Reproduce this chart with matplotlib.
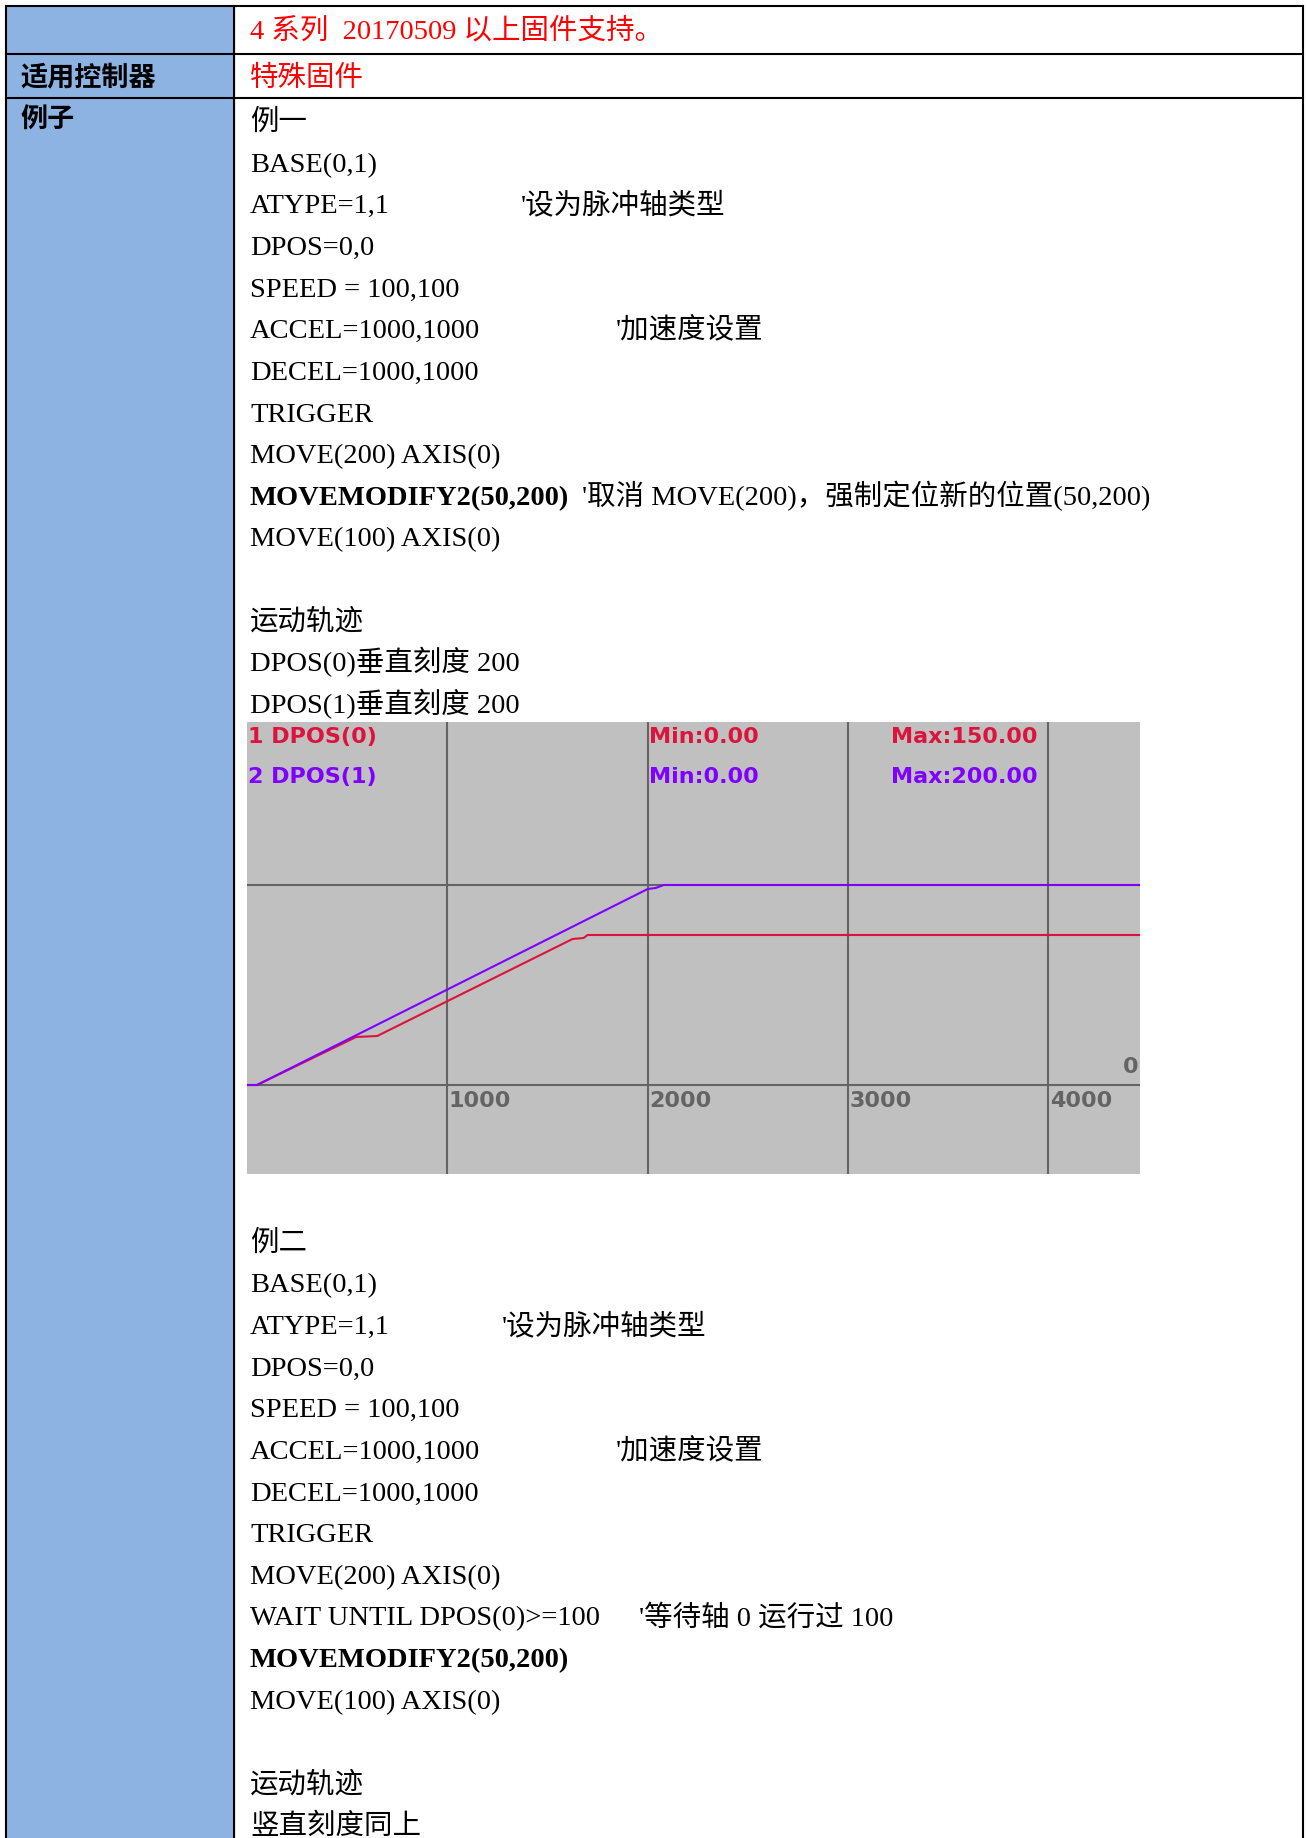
import matplotlib
matplotlib.use("Agg")
import matplotlib.pyplot as plt
from matplotlib.patches import Rectangle

# ---- chart data (time in ms, position in units) ----
t_axis0 = [0, 50, 545, 650, 1625, 1680, 1700, 4455]
dpos_axis0 = [0, 0, 48, 49, 146, 147, 150, 150]
t_axis1 = [0, 50, 2000, 2040, 2080, 4455]
dpos_axis1 = [0, 0, 196, 197, 200, 200]
x_ticks = [1000, 2000, 3000, 4000]
h_grid = [0, 200]
legend_names = ["1 DPOS(0)", "2 DPOS(1)"]
legend_min = ["Min:0.00", "Min:0.00"]
legend_max = ["Max:150.00", "Max:200.00"]

# ---- document text ----
header_note = "4 系列  20170509 以上固件支持。"
controller = "特殊固件"
left_labels = ["适用控制器", "例子"]

example1 = [
    ("例一", "", False),
    ("BASE(0,1)", "", False),
    ("ATYPE=1,1", "'设为脉冲轴类型", False),
    ("DPOS=0,0", "", False),
    ("SPEED = 100,100", "", False),
    ("ACCEL=1000,1000", "'加速度设置", False),
    ("DECEL=1000,1000", "", False),
    ("TRIGGER", "", False),
    ("MOVE(200) AXIS(0)", "", False),
    ("MOVEMODIFY2(50,200)", "'取消 MOVE(200)，强制定位新的位置(50,200)", True),
    ("MOVE(100) AXIS(0)", "", False),
    ("", "", False),
    ("运动轨迹", "", False),
    ("DPOS(0)垂直刻度 200", "", False),
    ("DPOS(1)垂直刻度 200", "", False),
]
comment_x1 = {2: 521, 5: 616, 9: 582}

example2 = [
    ("例二", "", False),
    ("BASE(0,1)", "", False),
    ("ATYPE=1,1", "'设为脉冲轴类型", False),
    ("DPOS=0,0", "", False),
    ("SPEED = 100,100", "", False),
    ("ACCEL=1000,1000", "'加速度设置", False),
    ("DECEL=1000,1000", "", False),
    ("TRIGGER", "", False),
    ("MOVE(200) AXIS(0)", "", False),
    ("WAIT UNTIL DPOS(0)>=100", "'等待轴 0 运行过 100", False),
    ("MOVEMODIFY2(50,200)", "", True),
    ("MOVE(100) AXIS(0)", "", False),
    ("", "", False),
    ("运动轨迹", "", False),
    ("竖直刻度同上", "", False),
]
comment_x2 = {2: 502, 5: 616, 9: 639}

W, H = 1307, 1838
SERIF = ["Liberation Serif", "Noto Sans CJK SC"]
FS = 20.5
RED = "#ff0000"
C0 = "#dc143c"
C1 = "#8000ff"
GRID = "#646464"

fig = plt.figure(figsize=(W / 100, H / 100), dpi=100)
ax = fig.add_axes([0, 0, 1, 1])
ax.set_xlim(0, W)
ax.set_ylim(H, 0)
ax.axis("off")

# table frame
left, mid, right, top = 6, 234, 1303, 6
row1, row2 = 54, 98
ax.add_patch(Rectangle((left, top), mid - left, H - top, color="#8db3e2", zorder=0))
lw = 1.5
ax.plot([left, right], [top, top], color="black", lw=lw)
ax.plot([left, right], [row1, row1], color="black", lw=lw)
ax.plot([left, right], [row2, row2], color="black", lw=lw)
for x in (left, mid, right):
    ax.plot([x, x], [top, H], color="black", lw=lw)

TX = 250
BASE_OFF = 9


def put(x, y, s, bold=False, color="black"):
    ax.text(x, y + BASE_OFF, s, fontsize=FS, family=SERIF, color=color,
            fontweight="bold" if bold else "normal", va="baseline", ha="left")


put(TX, 30, header_note, color=RED)
put(TX, 77, controller, color=RED)
ax.text(20, 77, left_labels[0], fontsize=19.5, family=["Noto Sans CJK SC"],
        fontweight="bold", va="center", ha="left")
ax.text(20, 120, left_labels[1], fontsize=19.5, family=["Noto Sans CJK SC"],
        fontweight="bold", va="center", ha="left")

step = 41.65
y0 = 121
for i, (code, comment, bold) in enumerate(example1):
    y = y0 + i * step
    if code:
        put(TX, y, code, bold=bold)
    if comment:
        put(comment_x1[i], y, comment)

y0 = 1241.7
for i, (code, comment, bold) in enumerate(example2):
    y = y0 + i * step
    if code:
        put(TX, y, code, bold=bold)
    if comment:
        put(comment_x2[i], y, comment)

# ---- embedded trace chart ----
cx0, cx1, cy0, cy1 = 247, 1139.5, 721.7, 1174.3
cax = fig.add_axes([cx0 / W, 1 - cy1 / H, (cx1 - cx0) / W, (cy1 - cy0) / H])
cax.set_facecolor("#c0c0c0")
cax.set_xlim(0, 4455)
cax.set_ylim(-89.3, 363.3)
for s in cax.spines.values():
    s.set_visible(False)
cax.set_xticks([])
cax.set_yticks([])

for xv in x_ticks:
    cax.axvline(xv, color=GRID, lw=1.5, zorder=1)
    cax.text(xv + 8, -6, str(xv), color=GRID, fontsize=16, fontweight="bold",
             family="DejaVu Sans", va="top", ha="left")
for yv in h_grid:
    cax.axhline(yv, color=GRID, lw=1.5, zorder=1)
cax.text(4448, 18, "0", color=GRID, fontsize=16, fontweight="bold",
         family="DejaVu Sans", va="center", ha="right")

cax.plot(t_axis0, dpos_axis0, color=C0, lw=1.5, zorder=3)
cax.plot(t_axis1, dpos_axis1, color=C1, lw=1.5, zorder=4)

for k, col in enumerate((C0, C1)):
    yv = 348 - 40 * k
    cax.text(5, yv, legend_names[k], color=col, fontsize=16, fontweight="bold",
             family="DejaVu Sans", va="center", ha="left")
    cax.text(2005, yv, legend_min[k], color=col, fontsize=16, fontweight="bold",
             family="DejaVu Sans", va="center", ha="left")
    cax.text(3948, yv, legend_max[k], color=col, fontsize=16, fontweight="bold",
             family="DejaVu Sans", va="center", ha="right")

fig.savefig("out.png", dpi=100)
